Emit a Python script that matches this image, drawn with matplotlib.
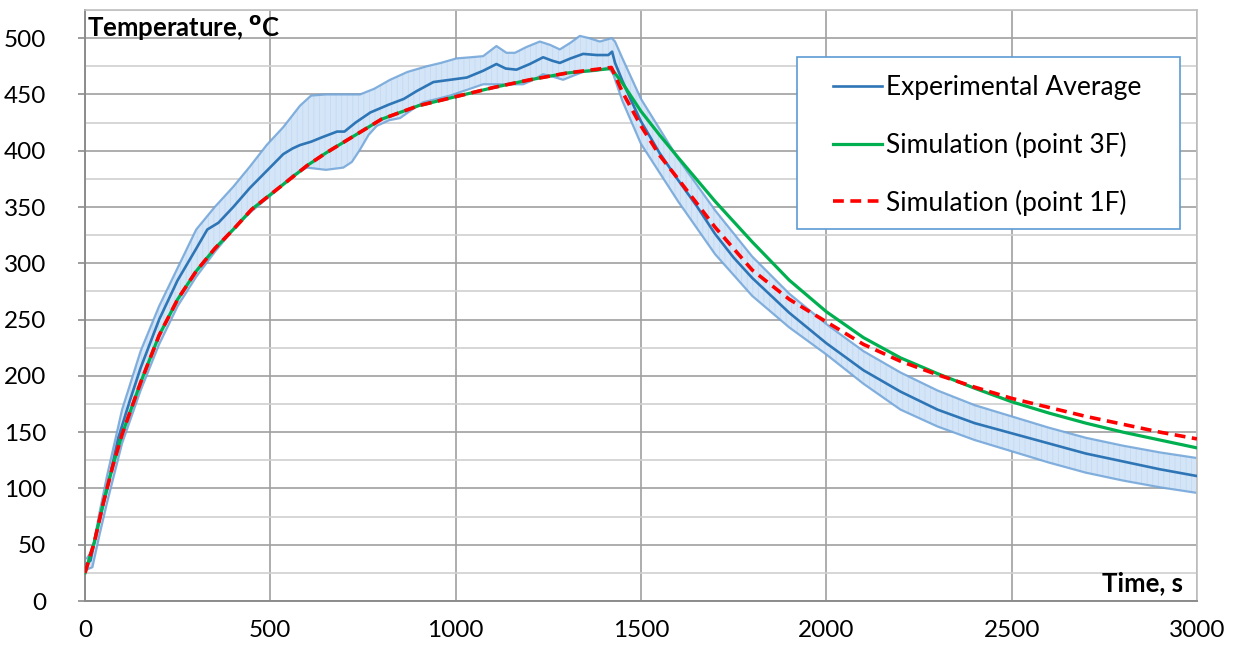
import numpy as np
import matplotlib
matplotlib.use("Agg")
import matplotlib.pyplot as plt
from matplotlib.patches import Rectangle
from matplotlib.ticker import MultipleLocator

plt.rcParams['font.family'] = ['Lato', 'DejaVu Sans']
plt.rcParams['hatch.linewidth'] = 0.5

# ---- data ----
t_mean = [5, 15, 30, 60, 90, 120, 150, 200, 250, 300, 330, 345, 360, 400, 445, 490, 535, 560, 580,
          610, 640, 680, 700, 730, 770, 820, 860, 895, 940, 985, 1030, 1074, 1110, 1135, 1164, 1200,
          1236, 1260, 1281, 1310, 1344, 1380, 1412, 1422, 1430, 1450, 1470, 1500, 1550, 1600, 1650,
          1700, 1750, 1800, 1900, 2000, 2100, 2200, 2300, 2400, 2500, 2600, 2700, 2800, 2900, 3000]
T_mean = [33, 36, 60, 100, 145, 177, 207, 250, 285, 313, 330, 333, 336, 350, 367, 382, 397, 402, 405,
          408, 412, 417, 417, 425, 434, 441, 446, 453, 461, 463, 465, 471, 477, 473, 472, 477,
          483, 480, 478, 482, 486, 485, 485, 488, 478, 462, 447, 426, 398, 374, 351,
          326, 305, 287, 256, 229, 205, 186, 170, 158, 149, 140, 131, 124, 117, 111]

t_upper = [5, 20, 40, 60, 100, 150, 200, 250, 300, 350, 400, 445, 490, 535, 580, 610, 650, 700, 742,
           780, 823, 870, 922, 960, 1002, 1040, 1074, 1090, 1110, 1137, 1160, 1190, 1227, 1255, 1281,
           1310, 1335, 1360, 1389, 1421, 1430, 1450, 1500, 1600, 1700, 1800, 1900, 2000, 2100, 2200,
           2300, 2400, 2500, 2600, 2700, 2800, 2900, 3000]
T_upper = [38, 45, 80, 112, 170, 222, 262, 296, 330, 350, 368, 386, 405, 421, 440, 449, 450, 450, 450,
           455, 463, 470, 475, 478, 482, 483, 484, 488, 493, 487, 487, 492, 497, 494, 490,
           496, 502, 500, 497, 500, 497, 482, 446, 393, 347, 306, 273, 246, 222, 203,
           187, 174, 164, 154, 145, 138, 132, 127]

t_lower = [5, 20, 40, 60, 100, 150, 200, 250, 300, 350, 400, 445, 500, 560, 598, 650, 697, 720, 742,
           765, 787, 820, 850, 880, 912, 950, 985, 1030, 1074, 1130, 1182, 1210, 1236, 1260, 1290,
           1320, 1344, 1380, 1412, 1425, 1450, 1500, 1600, 1700, 1800, 1900, 2000, 2100, 2200,
           2300, 2400, 2500, 2600, 2700, 2800, 2900, 3000]
T_lower = [28, 30, 60, 88, 140, 187, 228, 262, 288, 310, 330, 345, 360, 378, 385, 383, 385, 390, 401,
           414, 422, 427, 429, 436, 443, 446, 449, 454, 459, 459, 459, 463, 468, 466, 463,
           467, 470, 471, 474, 468, 444, 406, 355, 308, 271, 243, 219, 193, 170,
           155, 143, 133, 123, 114, 107, 101, 96]

t_sim = [0, 25, 50, 75, 100, 150, 200, 250, 300, 350, 400, 450, 500, 550, 600, 650, 700, 750, 800,
         900, 1000, 1100, 1200, 1300, 1420, 1450, 1500, 1550, 1600, 1700, 1800, 1900, 2000, 2100,
         2200, 2300, 2400, 2500, 2600, 2700, 2800, 2900, 3000]
T_sim_3F = [25, 52, 88, 120, 148, 194, 236, 268, 293, 313, 330, 348, 361, 374, 387, 398, 408, 418, 428,
            440, 448, 456, 463, 469, 473, 460, 435, 414, 394, 355, 319, 285, 257, 234,
            216, 202, 189, 177, 167, 158, 150, 143, 136]
T_sim_1F = [25, 52, 88, 120, 148, 194, 236, 268, 293, 313, 330, 348, 361, 374, 387, 398, 408, 418, 428,
            440, 448, 456, 463, 469, 474, 452, 422, 396, 375, 332, 294, 268, 248, 228,
            213, 201, 190, 180, 172, 164, 157, 150, 144]

x_ticks = [0, 500, 1000, 1500, 2000, 2500, 3000]
y_ticks = [0, 50, 100, 150, 200, 250, 300, 350, 400, 450, 500]

# ---- figure ----
fig = plt.figure(figsize=(12.34, 6.5), dpi=100)
ax = fig.add_axes([85/1234, 49/650, 1112/1234, 591/650])

ax.set_xlim(0, 3000)
ax.set_ylim(0, 525)
ax.yaxis.set_minor_locator(MultipleLocator(25))
ax.set_xticks(x_ticks)
ax.set_yticks(y_ticks)

ax.grid(which='major', axis='both', color='#a0a0a0', linewidth=1.2, zorder=0)
ax.grid(which='minor', axis='y', color='#d0d0d0', linewidth=1.2, zorder=0)
ax.set_axisbelow(True)

for s in ['top', 'right']:
    ax.spines[s].set_color('#bfbfbf')
    ax.spines[s].set_linewidth(1.2)
ax.spines['left'].set_color('#8c8c8c')
ax.spines['left'].set_linewidth(1.4)
ax.spines['bottom'].set_color('#8c8c8c')
ax.spines['bottom'].set_linewidth(1.4)

ax.tick_params(axis='both', which='major', labelsize=17.5, colors='#000000', length=5,
               width=1.2, color='#8c8c8c')
ax.tick_params(axis='y', which='major', pad=23)
ax.tick_params(axis='x', which='major', pad=14, length=0)
ax.tick_params(axis='y', which='minor', length=0)

# band
band_x = np.concatenate([t_upper, t_lower[::-1]])
band_y = np.concatenate([T_upper, T_lower[::-1]])
ax.fill(band_x, band_y, facecolor='#d3e5f7', edgecolor='#c2d9f2', linewidth=0,
        hatch='|||', zorder=1)
ax.plot(t_upper, T_upper, color='#6fa3d8', lw=1.6, alpha=0.85, zorder=2)
ax.plot(t_lower, T_lower, color='#6fa3d8', lw=1.6, alpha=0.85, zorder=2)

l1, = ax.plot(t_mean, T_mean, color='#2e75b6', lw=1.9, zorder=3, label='Experimental Average')
l2, = ax.plot(t_sim, T_sim_3F, color='#00b050', lw=2.3, zorder=4, label='Simulation (point 3F)')
l3, = ax.plot(t_sim, T_sim_1F, color='#ff0000', lw=2.6, linestyle=(0, (3, 1.8)), zorder=5,
              label='Simulation (point 1F)')

# legend box
ax.add_patch(Rectangle((0.6403, 0.6294), 0.3444, 0.2911, transform=ax.transAxes,
                       facecolor='white', edgecolor='#5b9bd5', linewidth=1.2, zorder=6))
leg = ax.legend(handles=[l1, l2, l3], loc='upper left', bbox_to_anchor=(0.6727, 0.890),
                frameon=False, fontsize=19, borderpad=0, borderaxespad=0,
                handlelength=1.86, handletextpad=0.15, labelspacing=1.2)
leg.set_zorder(7)

ax.text(0.002, 0.970, r'Temperature, $^{\mathbf{o}}$C', transform=ax.transAxes,
        fontsize=18.5, fontweight='bold', ha='left', va='center', zorder=8)
ax.text(0.987, 0.031, 'Time, s', transform=ax.transAxes,
        fontsize=18.5, fontweight='bold', ha='right', va='center', zorder=8)

fig.savefig('out.png', dpi=100)
